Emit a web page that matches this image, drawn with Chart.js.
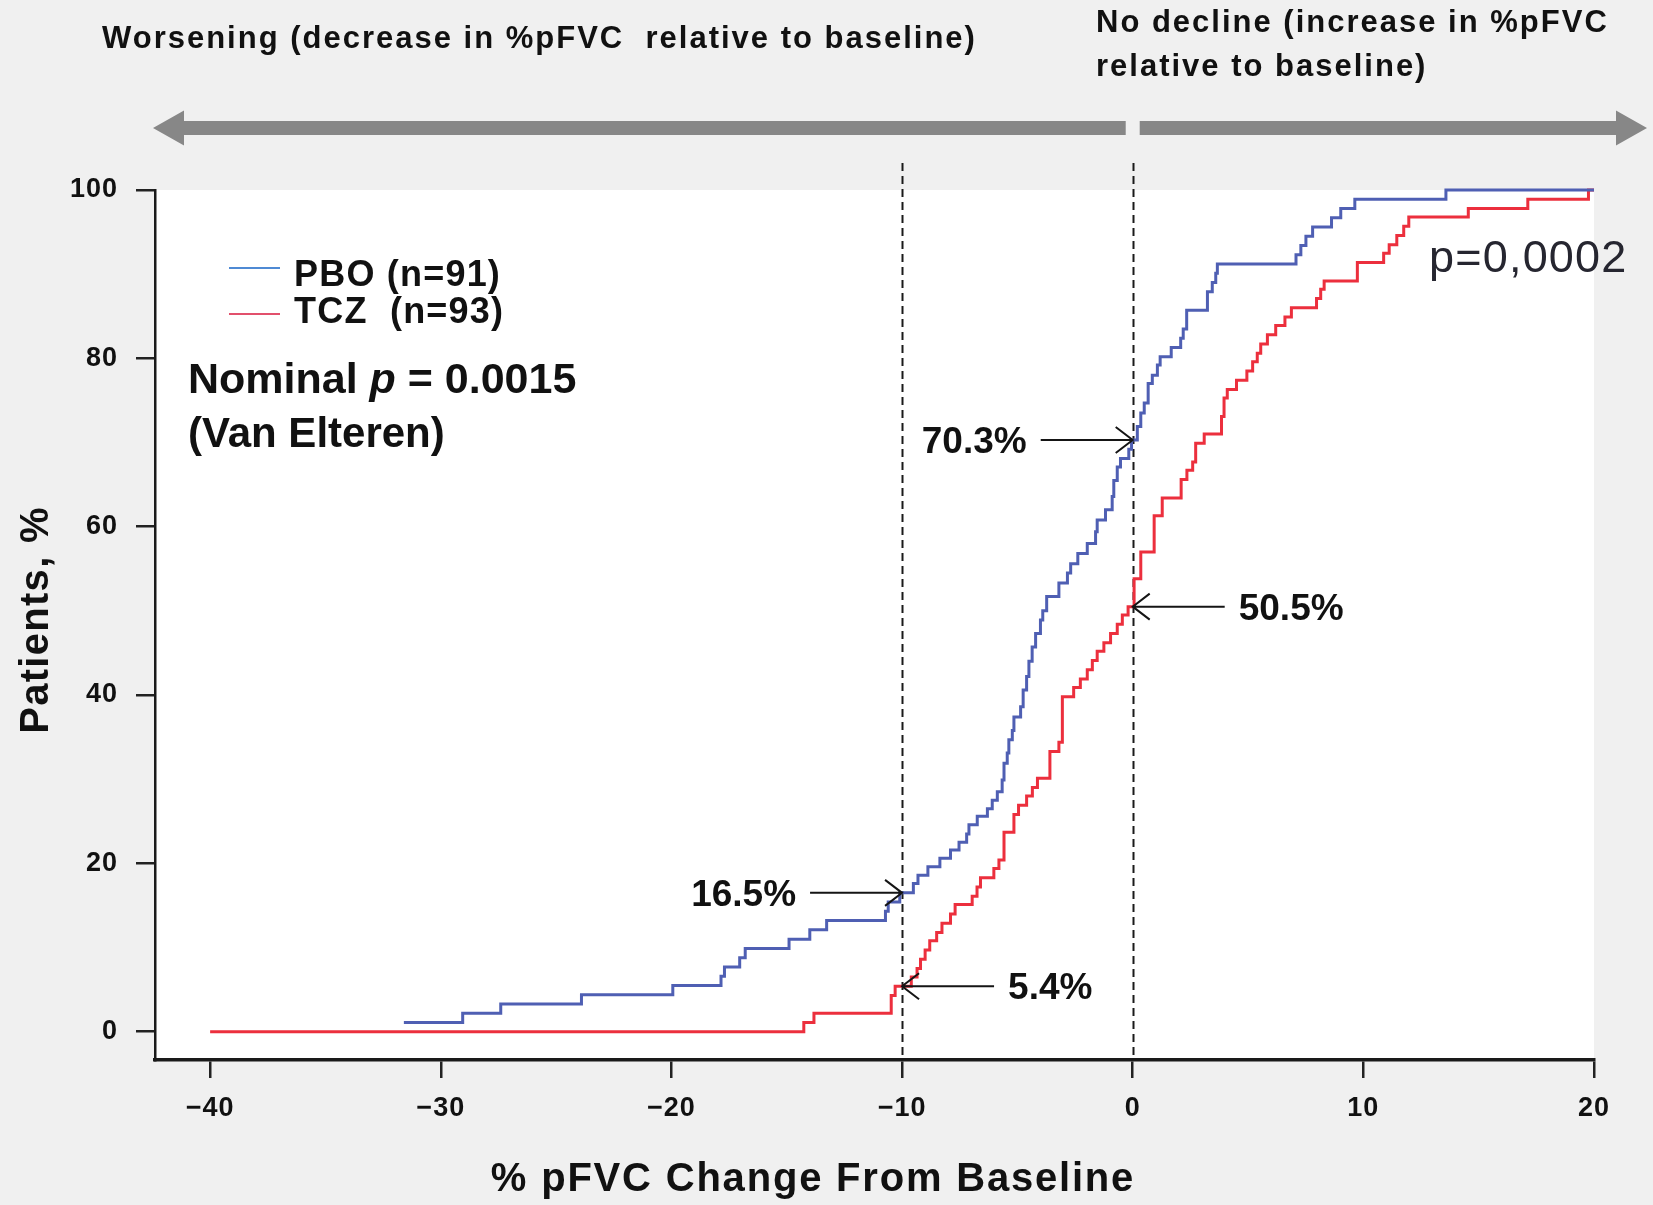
<!DOCTYPE html>
<html>
<head>
<meta charset="utf-8">
<title>% pFVC Change From Baseline</title>
<script src="https://cdn.jsdelivr.net/npm/chart.js@4.4.1/dist/chart.umd.min.js"></script>
<style>
    html, body { margin: 0; padding: 0; background: #f0f0f0; }
    canvas { display: block; }
</style>
</head>
<body>
<canvas id="cdf-chart" width="1653" height="1205" style="width:1653px;height:1205px"></canvas>
<script>

//---------------------------------------------------------------------------------------------
// - DATA -------------------------------------------------------------------------------------
//---------------------------------------------------------------------------------------------

// cumulative distribution, one point per step: x = change, y = % of patients at or below
var pbo_x = [-31.6, -29.05, -27.4, -23.9, -19.94, -17.85, -17.7, -17.04, -16.8, -14.9, -14.0, -13.27,
    -10.72, -10.6, -10.1, -9.51, -9.31, -8.88, -8.36, -7.9, -7.53, -7.2, -7.1, -6.74, -6.3, -6.09,
    -5.87, -5.66, -5.58, -5.44, -5.37, -5.22, -5.15, -4.86, -4.75, -4.6, -4.5, -4.36, -4.21, -4.0,
    -3.9, -3.73, -3.2, -2.83, -2.69, -2.38, -1.97, -1.61, -1.54, -1.18, -0.89, -0.82, -0.67, -0.53,
    -0.17, -0.05, 0.2, 0.35, 0.5, 0.67, 0.85, 1.07, 1.19, 1.67, 2.08, 2.19, 2.34, 3.24, 3.45, 3.6,
    3.67, 7.08, 7.29, 7.51, 7.8, 8.62, 9.02, 9.63, 13.58, 20];
var pbo_y = [1.1, 2.2, 3.3, 4.4, 5.5, 6.6, 7.7, 8.8, 9.9, 11.0, 12.1, 13.2,
    14.3, 15.4, 16.5, 17.6, 18.6, 19.6, 20.6, 21.6, 22.5, 23.5, 24.6, 25.6, 26.5, 27.5,
    28.5, 29.9, 31.9, 33.1, 34.7, 35.8, 37.4, 38.6, 40.6, 42.2, 44.0, 45.7, 47.3, 48.9,
    50.0, 51.7, 53.3, 54.5, 55.6, 56.8, 58.0, 59.4, 60.8, 62.0, 63.6, 65.5, 67.1, 68.1,
    69.2, 70.3, 71.9, 73.5, 74.7, 77.0, 78.0, 79.2, 80.2, 81.3, 82.4, 83.5, 85.7, 87.9, 89.0, 90.1,
    91.2, 92.3, 93.4, 94.5, 95.6, 96.7, 97.8, 98.9, 100, 100];

var tcz_x = [-40, -14.26, -13.82, -10.47, -10.3, -9.6, -9.35, -9.2, -9.0, -8.8, -8.5, -8.27,
    -7.9, -7.7, -6.96, -6.75, -6.6, -6.02, -5.8, -5.58, -5.15, -4.95, -4.6, -4.35, -4.13, -3.59,
    -3.2, -3.05, -2.56, -2.27, -1.97, -1.75, -1.54, -1.25, -0.96, -0.67, -0.45, -0.2, 0.06, 0.35,
    0.93, 1.28, 2.1, 2.35, 2.6, 2.73, 3.1, 3.85, 3.96, 4.1, 4.5, 4.95, 5.2, 5.4, 5.55, 5.84, 6.2,
    6.6, 6.88, 7.97, 8.15, 8.3, 9.74, 10.88, 11.12, 11.45, 11.75, 11.97, 14.55, 17.13, 19.76, 20];
var tcz_y = [0, 1.1, 2.2, 4.3, 5.4, 6.5, 7.5, 8.6, 9.7, 10.8, 11.8, 12.9,
    14.0, 15.1, 16.1, 17.2, 18.3, 19.4, 20.4, 23.7, 25.8, 26.9, 28.0, 29.0, 30.1, 33.3,
    34.4, 39.8, 40.9, 41.9, 43.0, 44.1, 45.2, 46.2, 47.3, 48.4, 49.5, 50.5, 53.8, 57.0,
    61.3, 63.4, 65.6, 66.7, 67.7, 69.9, 71.0, 73.1, 75.3, 76.3, 77.4, 78.5, 79.6, 80.6, 81.7, 82.8, 83.9,
    84.9, 86.0, 87.1, 88.2, 89.2, 91.4, 92.5, 93.5, 94.6, 95.7, 96.8, 97.8, 98.9, 100, 100];

var series_labels = ['PBO (n=91)', 'TCZ  (n=93)'];

var x_ticks = [-40, -30, -20, -10, 0, 10, 20];
var y_ticks = [0, 20, 40, 60, 80, 100];

// cut-offs marked with dashed lines
var cut_offs = [-10, 0];

// values read at the cut-offs
var callout_values = [70.3, 16.5, 50.5, 5.4];
var callout_at = [0, -10, 0, -10];
var callout_series = [0, 0, 1, 1];

var p_nominal = '0.0015';
var p_other = 'p=0,0002';

//---------------------------------------------------------------------------------------------
// - HELPERS ----------------------------------------------------------------------------------
//---------------------------------------------------------------------------------------------

var FONT = "'Liberation Sans', Arial, Helvetica, sans-serif";

function to_points(xs, ys) {
    return xs.map(function (x, i) { return { x: x, y: ys[i] }; });
}

function draw_text(ctx, text, x, y, font, spacing, align, color, baseline) {
    ctx.save();
    ctx.font = font;
    ctx.fillStyle = color || '#111';
    ctx.textAlign = align || 'left';
    ctx.textBaseline = baseline || 'alphabetic';
    ctx.letterSpacing = (spacing || 0) + 'px';
    ctx.fillText(text, x, y);
    ctx.restore();
}

function draw_big_arrow(ctx, gap_x) {
    var cy = 128, half = 7, head_half = 17.5, head_len = 31;
    var left_tip = 153, right_tip = 1647, gap = 7;

    ctx.save();
    ctx.fillStyle = '#878787';

    ctx.beginPath();
    ctx.moveTo(left_tip, cy);
    ctx.lineTo(left_tip + head_len, cy - head_half);
    ctx.lineTo(left_tip + head_len, cy - half);
    ctx.lineTo(gap_x - gap, cy - half);
    ctx.lineTo(gap_x - gap, cy + half);
    ctx.lineTo(left_tip + head_len, cy + half);
    ctx.lineTo(left_tip + head_len, cy + head_half);
    ctx.closePath();
    ctx.fill();

    ctx.beginPath();
    ctx.moveTo(right_tip, cy);
    ctx.lineTo(right_tip - head_len, cy - head_half);
    ctx.lineTo(right_tip - head_len, cy - half);
    ctx.lineTo(gap_x + gap, cy - half);
    ctx.lineTo(gap_x + gap, cy + half);
    ctx.lineTo(right_tip - head_len, cy + half);
    ctx.lineTo(right_tip - head_len, cy + head_half);
    ctx.closePath();
    ctx.fill();

    ctx.restore();
}

//---------------------------------------------------------------------------------------------
// - PLUGINS ----------------------------------------------------------------------------------
//---------------------------------------------------------------------------------------------

var backdrop_plugin = {
    id: 'backdrop',
    beforeDraw: function (chart) {
        var ctx = chart.ctx, area = chart.chartArea;
        ctx.save();
        ctx.fillStyle = '#f0f0f0';
        ctx.fillRect(0, 0, chart.width, chart.height);
        ctx.fillStyle = '#ffffff';
        ctx.fillRect(area.left, area.top, area.right - area.left, area.bottom - area.top);
        ctx.restore();
        // tick labels are a little spaced out
        ctx.letterSpacing = '1px';
    },
    beforeDatasetsDraw: function (chart) {
        var ctx = chart.ctx, area = chart.chartArea, xs = chart.scales.x;
        ctx.save();
        ctx.strokeStyle = '#1a1a1a';
        ctx.lineWidth = 2;
        ctx.setLineDash([8, 5]);
        cut_offs.forEach(function (v) {
            var px = Math.round(xs.getPixelForValue(v)) + 0.5;
            ctx.beginPath();
            ctx.moveTo(px, 163);
            ctx.lineTo(px, area.bottom);
            ctx.stroke();
        });
        ctx.restore();
    }
};

var notes_plugin = {
    id: 'notes',
    afterDraw: function (chart) {
        var ctx = chart.ctx, xs = chart.scales.x, ys = chart.scales.y;
        ctx.letterSpacing = '0px';

        // header texts and the direction arrow
        draw_text(ctx, 'Worsening (decrease in %pFVC  relative to baseline)', 102, 48, 'bold 31px ' + FONT, 2);
        draw_text(ctx, 'No decline (increase in %pFVC', 1096, 32, 'bold 31px ' + FONT, 2);
        draw_text(ctx, 'relative to baseline)', 1096, 76, 'bold 31px ' + FONT, 2);
        draw_big_arrow(ctx, xs.getPixelForValue(0));

        // axis titles
        draw_text(ctx, '% pFVC Change From Baseline', 813, 1191, 'bold 40px ' + FONT, 1.8, 'center');
        ctx.save();
        ctx.translate(48, 620);
        ctx.rotate(-Math.PI / 2);
        draw_text(ctx, 'Patients, %', 0, 0, 'bold 40px ' + FONT, 1.3, 'center');
        ctx.restore();

        // legend
        var legend_colors = ['#4f8ad4', '#e2506c'];
        var legend_lines = [268, 314];
        var legend_text = [286, 323];
        series_labels.forEach(function (label, i) {
            ctx.save();
            ctx.strokeStyle = legend_colors[i];
            ctx.lineWidth = 2;
            ctx.beginPath();
            ctx.moveTo(229, legend_lines[i]);
            ctx.lineTo(280, legend_lines[i]);
            ctx.stroke();
            ctx.restore();
            draw_text(ctx, label, 294, legend_text[i], 'bold 36px ' + FONT, 1.2);
        });

        // test results
        var nx = 188;
        ctx.save();
        ctx.font = 'bold 43px ' + FONT;
        var w1 = ctx.measureText('Nominal ').width;
        ctx.font = 'italic bold 43px ' + FONT;
        var w2 = ctx.measureText('p').width;
        ctx.restore();
        draw_text(ctx, 'Nominal ', nx, 393, 'bold 43px ' + FONT, 0);
        draw_text(ctx, 'p', nx + w1, 393, 'italic bold 43px ' + FONT, 0);
        draw_text(ctx, ' = ' + p_nominal, nx + w1 + w2, 393, 'bold 43px ' + FONT, 0);
        draw_text(ctx, '(Van Elteren)', nx, 447, 'bold 42px ' + FONT, 0);

        draw_text(ctx, p_other, 1429, 272, '45px ' + FONT, 1.2, 'left', '#262630');

        // call-outs at the cut-offs
        callout_values.forEach(function (v, i) {
            var tip_x = xs.getPixelForValue(callout_at[i]);
            var tip_y = ys.getPixelForValue(v);
            var dir = callout_series[i] === 0 ? -1 : 1;
            var tail_x = tip_x + dir * 92;

            ctx.save();
            ctx.strokeStyle = '#151515';
            ctx.lineWidth = 2;
            ctx.beginPath();
            ctx.moveTo(tail_x, tip_y);
            ctx.lineTo(tip_x, tip_y);
            ctx.moveTo(tip_x + dir * 17, tip_y - 13);
            ctx.lineTo(tip_x, tip_y);
            ctx.lineTo(tip_x + dir * 17, tip_y + 13);
            ctx.stroke();
            ctx.restore();

            draw_text(ctx, v.toFixed(1) + '%', tail_x + dir * 14, tip_y + 3, 'bold 37px ' + FONT, 0,
                dir < 0 ? 'right' : 'left', '#111', 'middle');
        });
    }
};

//---------------------------------------------------------------------------------------------
// - CDF CHART --------------------------------------------------------------------------------
//---------------------------------------------------------------------------------------------

Chart.defaults.font.family = FONT;

var cdf_chart_data = {
    datasets: [{
        label: series_labels[0],
        data: to_points(pbo_x, pbo_y),
        borderColor: '#4f5fb3',
        borderWidth: 3,
        stepped: true,
        pointRadius: 0,
        fill: false,
        clip: false
    }, {
        label: series_labels[1],
        data: to_points(tcz_x, tcz_y),
        borderColor: '#ec2f3d',
        borderWidth: 3,
        stepped: true,
        pointRadius: 0,
        fill: false,
        clip: false
    }]
};

function tick_label(value) {
    return value < 0 ? '\u2212' + Math.abs(value) : String(value);
}

var cdf_chart_config = {
    type: 'line',
    data: cdf_chart_data,
    options: {
        responsive: false,
        animation: false,
        events: [],
        layout: {
            padding: { left: 0, right: 59, top: 190, bottom: 0 }
        },
        plugins: {
            legend: { display: false },
            tooltip: { enabled: false }
        },
        scales: {
            x: {
                type: 'linear',
                min: -42.39,
                max: 20,
                afterBuildTicks: function (axis) {
                    axis.ticks = x_ticks.map(function (v) { return { value: v }; });
                },
                afterFit: function (axis) { axis.height = 145; },
                grid: { drawOnChartArea: false, drawTicks: true, tickLength: 18, lineWidth: 2.5, color: '#222' },
                border: { display: true, color: '#1a1a1a', width: 3.5 },
                ticks: {
                    color: '#111',
                    font: { size: 27, weight: 'bold' },
                    padding: 14,
                    maxRotation: 0,
                    autoSkip: false,
                    callback: tick_label
                }
            },
            y: {
                type: 'linear',
                min: -3.36,
                max: 100,
                afterBuildTicks: function (axis) {
                    axis.ticks = y_ticks.map(function (v) { return { value: v }; });
                },
                afterFit: function (axis) { axis.width = 155; },
                grid: { drawOnChartArea: false, drawTicks: true, tickLength: 19, lineWidth: 2.5, color: '#222' },
                border: { display: true, color: '#1a1a1a', width: 2.5 },
                ticks: {
                    color: '#111',
                    font: { size: 27, weight: 'bold' },
                    padding: 18,
                    autoSkip: false,
                    callback: tick_label
                }
            }
        }
    },
    plugins: [backdrop_plugin, notes_plugin]
};

var cdf_chart_ctx = document.getElementById('cdf-chart').getContext('2d');

new Chart(cdf_chart_ctx, cdf_chart_config);

</script>
</body>
</html>
